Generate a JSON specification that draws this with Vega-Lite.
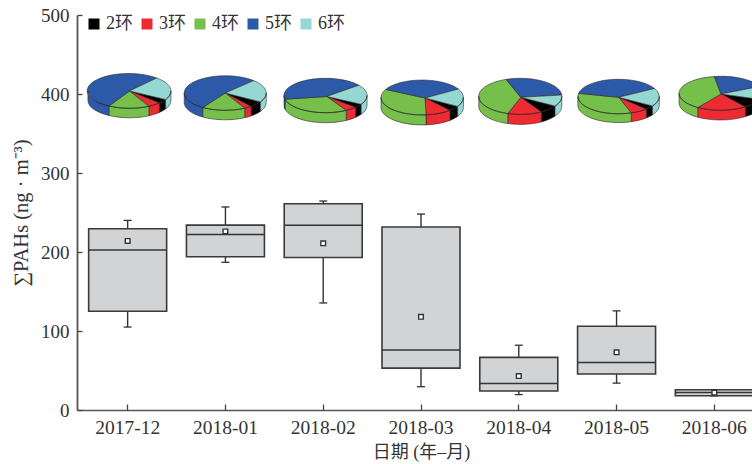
{
"$schema":"https://vega.github.io/schema/vega-lite/v6.json",
"width":675,"height":395,
"autosize":{"type":"none"},
"padding":{"left":77,"top":15,"right":0,"bottom":54},
"background":"white",
"config":{"view":{"stroke":null},"font":"Liberation Serif, Noto Sans CJK SC"},
"datasets":{
"boxes":[
{"month":"2017-12","min":105,"q1":125,"median":202.5,"q3":229.5,"max":240,"mean":214},
{"month":"2018-01","min":187,"q1":194,"median":222,"q3":234,"max":257,"mean":226},
{"month":"2018-02","min":135.5,"q1":193,"median":234,"q3":261,"max":264.5,"mean":211},
{"month":"2018-03","min":29.5,"q1":53,"median":76,"q3":231.6,"max":248,"mean":118},
{"month":"2018-04","min":19.5,"q1":24,"median":33.7,"q3":66.6,"max":82,"mean":43},
{"month":"2018-05","min":34,"q1":45.6,"median":60,"q3":106,"max":125.5,"mean":73},
{"month":"2018-06","min":18,"q1":18,"median":22,"q3":25.7,"max":25.7,"mean":22}
],
"pies":[
{"month":"2017-12","ring":"2环","slice":"a2","share":3},{"month":"2017-12","ring":"3环","slice":"a3","share":6},{"month":"2017-12","ring":"4环","slice":"a4","share":19},{"month":"2017-12","ring":"5环","slice":"a5","share":52},{"month":"2017-12","ring":"6环","slice":"a6","share":20},
{"month":"2018-01","ring":"2环","slice":"b2","share":5},{"month":"2018-01","ring":"3环","slice":"b3","share":4},{"month":"2018-01","ring":"4环","slice":"b4","share":19},{"month":"2018-01","ring":"5环","slice":"b5","share":52},{"month":"2018-01","ring":"6环","slice":"b6","share":20},
{"month":"2018-02","ring":"2环","slice":"c2","share":3},{"month":"2018-02","ring":"3环","slice":"c3","share":6},{"month":"2018-02","ring":"4环","slice":"c4","share":30},{"month":"2018-02","ring":"5环","slice":"c5","share":43},{"month":"2018-02","ring":"6环","slice":"c6","share":18},
{"month":"2018-03","ring":"2环","slice":"d2","share":4},{"month":"2018-03","ring":"3环","slice":"d3","share":12},{"month":"2018-03","ring":"4环","slice":"d4","share":34},{"month":"2018-03","ring":"5环","slice":"d5","share":34},{"month":"2018-03","ring":"6环","slice":"d6","share":16},
{"month":"2018-04","ring":"2环","slice":"e2","share":8},{"month":"2018-04","ring":"3环","slice":"e3","share":13},{"month":"2018-04","ring":"4环","slice":"e4","share":40},{"month":"2018-04","ring":"5环","slice":"e5","share":29},{"month":"2018-04","ring":"6环","slice":"e6","share":10},
{"month":"2018-05","ring":"2环","slice":"f2","share":4},{"month":"2018-05","ring":"3环","slice":"f3","share":9},{"month":"2018-05","ring":"4环","slice":"f4","share":33},{"month":"2018-05","ring":"5环","slice":"f5","share":40},{"month":"2018-05","ring":"6环","slice":"f6","share":14},
{"month":"2018-06","ring":"2环","slice":"g2","share":6},{"month":"2018-06","ring":"3环","slice":"g3","share":20},{"month":"2018-06","ring":"4环","slice":"g4","share":38},{"month":"2018-06","ring":"5环","slice":"g5","share":28},{"month":"2018-06","ring":"6环","slice":"g6","share":8}
]
},
"resolve":{"axis":{"x":"independent","y":"independent"}},
"encoding":{"x":{"field":"month","type":"nominal","sort":null,"axis":null,"scale":{"range":[0,688],"paddingInner":0,"paddingOuter":0.018}}},
"layer":[
{"data":{"name":"boxes"},"mark":{"type":"rule","stroke":"#333","strokeWidth":1.4},
 "encoding":{
  "x":{"field":"month","type":"nominal","sort":null,"scale":{"range":[0,688],"paddingInner":0,"paddingOuter":0.018},
   "axis":{"title":"日期 (年–月)","titleFontSize":18,"titleFontWeight":"normal","titleColor":"#333","titlePadding":7,"labelAngle":0,"labelFontSize":19.5,"labelColor":"#333","labelPadding":8,"ticks":false,"tickSize":0,"domainColor":"#555","domainWidth":1.5,"grid":false,"labelOverlap":false}},
  "y":{"field":"min","type":"quantitative","scale":{"domain":[0,500],"nice":false},
  "axis":{"title":"∑PAHs (ng · m⁻³)","titleFontSize":20.5,"titleFontWeight":"normal","titleColor":"#333","titlePadding":9,"labelFontSize":19,"labelColor":"#333","labelPadding":8,"values":[0,100,200,300,400,500],"ticks":false,"tickSize":0,"domainColor":"#555","domainWidth":1.8,"grid":false}},
  "y2":{"field":"max"}}},
{"data":{"name":"boxes"},"mark":{"type":"tick","size":8,"thickness":1.3,"color":"#333","opacity":1},"encoding":{
  "x":{"field":"month","type":"nominal","sort":null,"scale":{"range":[0,688],"paddingInner":0,"paddingOuter":0.018},
   "axis":{"orient":"top","offset":-395,"title":null,"labels":false,"domain":false,"tickSize":6,"tickColor":"#444","tickWidth":1.3,"grid":false}},
  "y":{"field":"min","type":"quantitative","scale":{"domain":[0,500],"nice":false},
   "axis":{"orient":"right","offset":-675,"title":null,"labels":false,"domain":false,"values":[0,100,200,300,400,500],"tickSize":5,"tickColor":"#444","tickWidth":1.3,"grid":false}}}},
{"data":{"name":"boxes"},"mark":{"type":"tick","size":8,"thickness":1.3,"color":"#333","opacity":1},"encoding":{"y":{"field":"max","type":"quantitative","axis":null}}},
{"data":{"name":"boxes"},"mark":{"type":"bar","size":78,"fill":"#d1d3d4","stroke":"#3a3a3a","strokeWidth":1.6},"encoding":{"y":{"field":"q1","type":"quantitative","axis":null},"y2":{"field":"q3"}}},
{"data":{"name":"boxes"},"mark":{"type":"tick","size":78,"thickness":1.5,"color":"#333","opacity":1},"encoding":{"y":{"field":"median","type":"quantitative","axis":null}}},
{"data":{"name":"boxes"},"mark":{"type":"point","shape":"square","size":22,"filled":true,"fill":"white","stroke":"#333","strokeWidth":1.4,"opacity":1},"encoding":{"y":{"field":"mean","type":"quantitative","axis":null}}},
{"data":{"name":"pies"},"mark":{"type":"point","filled":true,"stroke":"#2a2a2a","strokeWidth":0.6,"opacity":1,"size":4},
 "encoding":{"y":{"datum":400,"type":"quantitative","axis":null},
 "color":{"field":"ring","type":"nominal","scale":{"domain":["2环","3环","4环","5环","6环"],"range":["#000000","#ee2a32","#76bf4b","#2d5aa8","#95d7d2"]},
  "legend":{"title":null,"orient":"none","legendX":8,"legendY":0,"direction":"horizontal","columns":5,"symbolType":"square","symbolSize":121,"symbolStrokeWidth":0,"labelFontSize":18,"labelColor":"#333","labelOffset":3,"columnPadding":5,"padding":0}},
 "shape":{"field":"slice","type":"nominal","legend":null,"scale":{
 "domain":["a2","a3","a4","a5","a6","b2","b3","b4","b5","b6","c2","c3","c4","c5","c6","d2","d3","d4","d5","d6","e2","e3","e4","e5","e6","f2","f3","f4","f5","f6","g2","g3","g4","g5","g6"],
 "range":[
 "M1.8 -3L38 5.5A41.5 17.3 0 0 1 31.6 9ZM38 5.5A41.5 17.3 0 0 1 31.6 9L31.6 18.5A41.5 17.3 0 0 0 38 15Z",
 "M1.8 -3L31.6 9A41.5 17.3 0 0 1 21.3 12.3ZM31.6 9A41.5 17.3 0 0 1 21.3 12.3L21.3 21.8A41.5 17.3 0 0 0 31.6 18.5Z",
 "M1.8 -3L21.3 12.3A41.5 17.3 0 0 1 -18.7 12ZM21.3 12.3A41.5 17.3 0 0 1 -18.7 12L-18.7 21.5A41.5 17.3 0 0 0 21.3 21.8Z",
 "M1.8 -3L-18.7 12A41.5 17.3 0 1 1 29 -16ZM-18.7 12A41.5 17.3 0 0 1 -39.7 -3L-39.7 6.5A41.5 17.3 0 0 0 -18.7 21.5Z",
 "M1.8 -3L29 -16A41.5 17.3 0 0 1 38 5.5ZM43.3 -3A41.5 17.3 0 0 1 38 5.5L38 15A41.5 17.3 0 0 0 43.3 6.5Z",

 "M-0.2 -1L35 7.9A41 17.3 0 0 1 25.7 12.4ZM35 7.9A41 17.3 0 0 1 25.7 12.4L25.7 21.9A41 17.3 0 0 0 35 17.4Z",
 "M-0.2 -1L25.7 12.4A41 17.3 0 0 1 19.3 14.2ZM25.7 12.4A41 17.3 0 0 1 19.3 14.2L19.3 23.7A41 17.3 0 0 0 25.7 21.9Z",
 "M-0.2 -1L19.3 14.2A41 17.3 0 0 1 -22.7 13.5ZM19.3 14.2A41 17.3 0 0 1 -22.7 13.5L-22.7 23A41 17.3 0 0 0 19.3 23.7Z",
 "M-0.2 -1L-22.7 13.5A41 17.3 0 1 1 28.3 -13.4ZM-22.7 13.5A41 17.3 0 0 1 -41.2 -1L-41.2 8.5A41 17.3 0 0 0 -22.7 23Z",
 "M-0.2 -1L28.3 -13.4A41 17.3 0 0 1 35 7.9ZM40.8 -1A41 17.3 0 0 1 35 7.9L35 17.4A41 17.3 0 0 0 40.8 8.5Z",

 "M3.5 2.5L38 10.3A41.5 17.2 0 0 1 32.3 13.4ZM38 10.3A41.5 17.2 0 0 1 32.3 13.4L32.3 23.4A41.5 17.2 0 0 0 38 20.3Z",
 "M3.5 2.5L32.3 13.4A41.5 17.2 0 0 1 23 16.4ZM32.3 13.4A41.5 17.2 0 0 1 23 16.4L23 26.4A41.5 17.2 0 0 0 32.3 23.4Z",
 "M3.5 2.5L23 16.4A41.5 17.2 0 0 1 -38.2 5.2ZM23 16.4A41.5 17.2 0 0 1 -38.2 5.2L-38.2 15.2A41.5 17.2 0 0 0 23 26.4Z",
 "M3.5 2.5L-38.2 5.2A41.5 17.2 0 0 1 35.6 -8.8ZM-38.2 5.2A41.5 17.2 0 0 1 -39.2 1.5L-39.2 11.5A41.5 17.2 0 0 0 -38.2 15.2Z",
 "M3.5 2.5L35.6 -8.8A41.5 17.2 0 0 1 38 10.3ZM43.8 1.5A41.5 17.2 0 0 1 38 10.3L38 20.3A41.5 17.2 0 0 0 43.8 11.5Z",

 "M4 4L36.7 12.4A41.2 17.5 0 0 1 29 16.4ZM36.7 12.4A41.2 17.5 0 0 1 29 16.4L29 26.4A41.2 17.5 0 0 0 36.7 22.4Z",
 "M4 4L29 16.4A41.2 17.5 0 0 1 5 20.9ZM29 16.4A41.2 17.5 0 0 1 5 20.9L5 30.9A41.2 17.5 0 0 0 29 26.4Z",
 "M4 4L5 20.9A41.2 17.5 0 0 1 -35.3 -4.6ZM5 20.9A41.2 17.5 0 0 1 -40 3.5L-40 13.5A41.2 17.5 0 0 0 5 30.9Z",
 "M4 4L-35.3 -4.6A41.2 17.5 0 0 1 37.3 -4.9Z",
 "M4 4L37.3 -4.9A41.2 17.5 0 0 1 36.7 12.4ZM42.4 3.5A41.2 17.5 0 0 1 36.7 12.4L36.7 22.4A41.2 17.5 0 0 0 42.4 13.5Z",

 "M2 3.3L36.3 12.1A41.5 18 0 0 1 22.5 18ZM36.3 12.1A41.5 18 0 0 1 22.5 18L22.5 28A41.5 18 0 0 0 36.3 22.1Z",
 "M2 3.3L22.5 18A41.5 18 0 0 1 -11 19.5ZM22.5 18A41.5 18 0 0 1 -11 19.5L-11 29.5A41.5 18 0 0 0 22.5 28Z",
 "M2 3.3L-11 19.5A41.5 18 0 0 1 -12.7 -14.6ZM-11 19.5A41.5 18 0 0 1 -40 2.3L-40 12.3A41.5 18 0 0 0 -11 29.5Z",
 "M2 3.3L-12.7 -14.6A41.5 18 0 0 1 43 1Z",
 "M2 3.3L43 1A41.5 18 0 0 1 36.3 12.1ZM43 2.3A41.5 18 0 0 1 36.3 12.1L36.3 22.1A41.5 18 0 0 0 43 12.3Z",

 "M2 3.3L36 12A40.7 17.3 0 0 1 29.7 15.2ZM36 12A40.7 17.3 0 0 1 29.7 15.2L29.7 24A40.7 17.3 0 0 0 36 20.8Z",
 "M2 3.3L29.7 15.2A40.7 17.3 0 0 1 14.7 18.9ZM29.7 15.2A40.7 17.3 0 0 1 14.7 18.9L14.7 27.7A40.7 17.3 0 0 0 29.7 24Z",
 "M2 3.3L14.7 18.9A40.7 17.3 0 0 1 -38 -0.7ZM14.7 18.9A40.7 17.3 0 0 1 -38.7 2.5L-38.7 11.3A40.7 17.3 0 0 0 14.7 27.7Z",
 "M2 3.3L-38 -0.7A40.7 17.3 0 0 1 38 -5.5Z",
 "M2 3.3L38 -5.5A40.7 17.3 0 0 1 36 12ZM42.7 2.5A40.7 17.3 0 0 1 36 12L36 20.8A40.7 17.3 0 0 0 42.7 11.3Z",

 "M6.7 0L45.7 5.4A41.5 17 0 0 1 31 12.9ZM45.7 5.4A41.5 17 0 0 1 31 12.9L31 22.6A41.5 17 0 0 0 45.7 15.1Z",
 "M6.7 0L31 12.9A41.5 17 0 0 1 -16.6 13.5ZM31 12.9A41.5 17 0 0 1 -16.6 13.5L-16.6 23.2A41.5 17 0 0 0 31 22.6Z",
 "M6.7 0L-16.6 13.5A41.5 17 0 0 1 0 -17.5ZM-16.6 13.5A41.5 17 0 0 1 -35.3 -0.7L-35.3 9A41.5 17 0 0 0 -16.6 23.2Z",
 "M6.7 0L0 -17.5A41.5 17 0 0 1 45.2 -7.5Z",
 "M6.7 0L45.2 -7.5A41.5 17 0 0 1 45.7 5.4ZM47.7 -0.7A41.5 17 0 0 1 45.7 5.4L45.7 15.1A41.5 17 0 0 0 47.7 9Z"
 ]}}}}
]
}
